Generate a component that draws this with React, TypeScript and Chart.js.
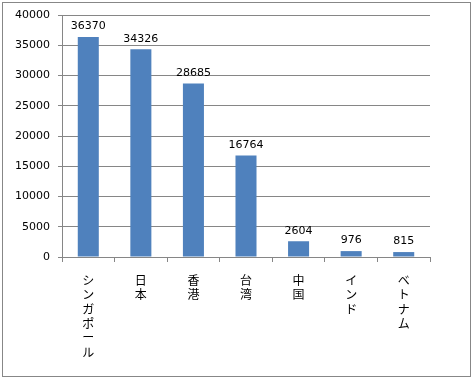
import React, { useEffect, useRef } from "react";
import { Chart, registerables } from "chart.js";

Chart.register(...registerables);

const categories: string[] = ["シンガポール", "日本", "香港", "台湾", "中国", "インド", "ベトナム"];
const values: number[] = [36370, 34326, 28685, 16764, 2604, 976, 815];
const yTicks: number[] = [0, 5000, 10000, 15000, 20000, 25000, 30000, 35000, 40000];

const BAR = "#4F81BD";
const GRID = "#868686";

const valueLabels = {
  id: "valueLabels",
  afterDatasetsDraw(chart: any) {
    const ctx = chart.ctx;
    const meta = chart.getDatasetMeta(0);
    ctx.save();
    ctx.font = "11px 'DejaVu Sans', sans-serif";
    ctx.fillStyle = "#000";
    ctx.textAlign = "center";
    ctx.textBaseline = "bottom";
    meta.data.forEach((el: any, i: number) => {
      ctx.fillText(String(values[i]), el.x, el.y - 5);
    });
    ctx.restore();
  },
};

const frame = {
  id: "frame",
  afterDraw(chart: any) {
    const ctx = chart.ctx;
    ctx.save();
    ctx.strokeStyle = "#878787";
    ctx.lineWidth = 1;
    ctx.strokeRect(2.5, 2.5, 468, 374);
    ctx.restore();
  },
};

export default function App() {
  const ref = useRef<HTMLCanvasElement>(null);
  useEffect(() => {
    if (!ref.current) return;
    const chart = new Chart(ref.current, {
      type: "bar",
      data: {
        labels: categories.map((c) => Array.from(c)),
        datasets: [
          {
            data: values,
            backgroundColor: BAR,
            borderWidth: 0,
            categoryPercentage: 1,
            barPercentage: 0.4,
          },
        ],
      },
      options: {
        animation: false,
        responsive: false,
        maintainAspectRatio: false,
        events: [],
        layout: { padding: { left: 0, top: 15, right: 42, bottom: 0 } },
        plugins: {
          legend: { display: false },
          tooltip: { enabled: false },
          title: { display: false },
        },
        scales: {
          x: {
            offset: true,
            grid: {
              offset: true,
              drawOnChartArea: false,
              drawTicks: true,
              tickLength: 5,
              color: GRID,
            },
            border: { display: true, color: GRID },
            ticks: {
              color: "#000",
              font: { family: "'Noto Sans CJK JP', sans-serif", size: 12, lineHeight: 1.2 },
              maxRotation: 0,
              minRotation: 0,
              autoSkip: false,
              padding: 11,
            },
            afterFit(scale: any) {
              scale.height = 121;
            },
          },
          y: {
            min: 0,
            max: 40000,
            afterBuildTicks(scale: any) {
              scale.ticks = yTicks.map((v) => ({ value: v }));
            },
            grid: {
              color: GRID,
              drawTicks: true,
              tickLength: 4,
            },
            border: { display: true, color: GRID },
            ticks: {
              color: "#000",
              font: { family: "'DejaVu Sans', sans-serif", size: 11 },
              padding: 8,
              callback: (v: any) => String(v),
            },
            afterFit(scale: any) {
              scale.width = 62;
            },
          },
        },
      },
      plugins: [valueLabels, frame],
    });
    return () => chart.destroy();
  }, []);
  return (
    <div style={{ position: "fixed", left: 0, top: 0, width: 472, height: 378, background: "#fff" }}>
      <canvas ref={ref} width={472} height={378} style={{ width: 472, height: 378 }} />
    </div>
  );
}
